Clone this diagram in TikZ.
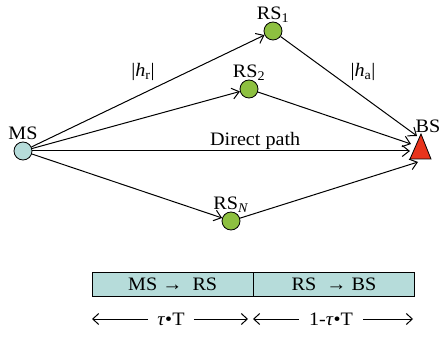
\documentclass[tikz,border=0pt]{standalone}
\usepackage{fontspec}
\setmainfont{Liberation Serif}[FakeStretch=1.06]
\usetikzlibrary{arrows.meta}
\definecolor{msblue}{RGB}{182,220,218}
\definecolor{rsgreen}{RGB}{141,192,64}
\definecolor{bsred}{RGB}{232,52,28}

\begin{document}
\begin{tikzpicture}[x=1pt,y=-1pt,
    font=\fontsize{19}{22}\selectfont,
    >={Straight Barb[length=7pt,width=11pt]},
    station/.style={circle,draw,line width=0.8pt,minimum size=18pt,inner sep=0pt},
    link/.style={->,line width=1pt},
    slot/.style={draw,fill=msblue,line width=0.8pt,minimum height=24pt,
                 minimum width=160.5pt,inner sep=0pt,anchor=west},
    span/.style={->,line width=1pt,>={Straight Barb[length=6pt,width=11pt]}}]
  \useasboundingbox (0,0) rectangle (442,339);

  % stations
  \node[station,fill=msblue,label={[label distance=-2pt]above:MS}] (ms) at (23,151) {};
  \node[station,fill=rsgreen,label={[label distance=-4pt]above:RS\textsubscript{1}}] (rs1) at (273,31) {};
  \node[station,fill=rsgreen,label={[label distance=-4pt]above:RS\textsubscript{2}}] (rs2) at (249,89) {};
  \node[station,fill=rsgreen,label={[label distance=-4pt]above:RS\textsubscript{\textit{N}}}] (rsn) at (231,221) {};

  % base station
  \draw[fill=bsred,line width=0.8pt] (421,134) -- (431,159) -- (410,159) -- cycle;
  \node[inner sep=1pt] (bs) at (428,126) {BS};
  \coordinate (bs1) at (417,136);
  \coordinate (bs2) at (411,144);
  \coordinate (bs3) at (410,151);
  \coordinate (bs4) at (418,162);

  % links
  \draw[link] (ms) -- (rs1);
  \draw[link] (ms) -- (rs2);
  \draw[link] (ms) -- (rsn);
  \draw[link] (ms) -- node[pos=0.59,above,inner sep=1pt] (direct) {Direct path} (bs3);
  \draw[link] (rs1) -- (bs1);
  \draw[link] (rs2) -- (bs2);
  \draw[link] (rsn) -- (bs4);
  \node (hr) at (143,72) {|\textit{h}\textsubscript{r}|};
  \node (ha) at (363,72) {|\textit{h}\textsubscript{a}|};

  % frame
  \node[slot] (up) at (92,284) {MS → ~RS};
  \node[slot] (down) at (up.east) {RS ~→ BS};
  \node[inner xsep=9pt] (tau) at (171,319) {\textit{τ}•T};
  \node[inner xsep=10pt] (rest) at (331,319) {1-\textit{τ}•T};
  \coordinate (t0) at (92,319);
  \coordinate (t1) at (248,319);
  \coordinate (t2) at (253,319);
  \coordinate (t3) at (413,319);
  \draw[span] (tau) -- (t0);
  \draw[span] (tau) -- (t1);
  \draw[span] (rest) -- (t2);
  \draw[span] (rest) -- (t3);
\end{tikzpicture}
\end{document}
